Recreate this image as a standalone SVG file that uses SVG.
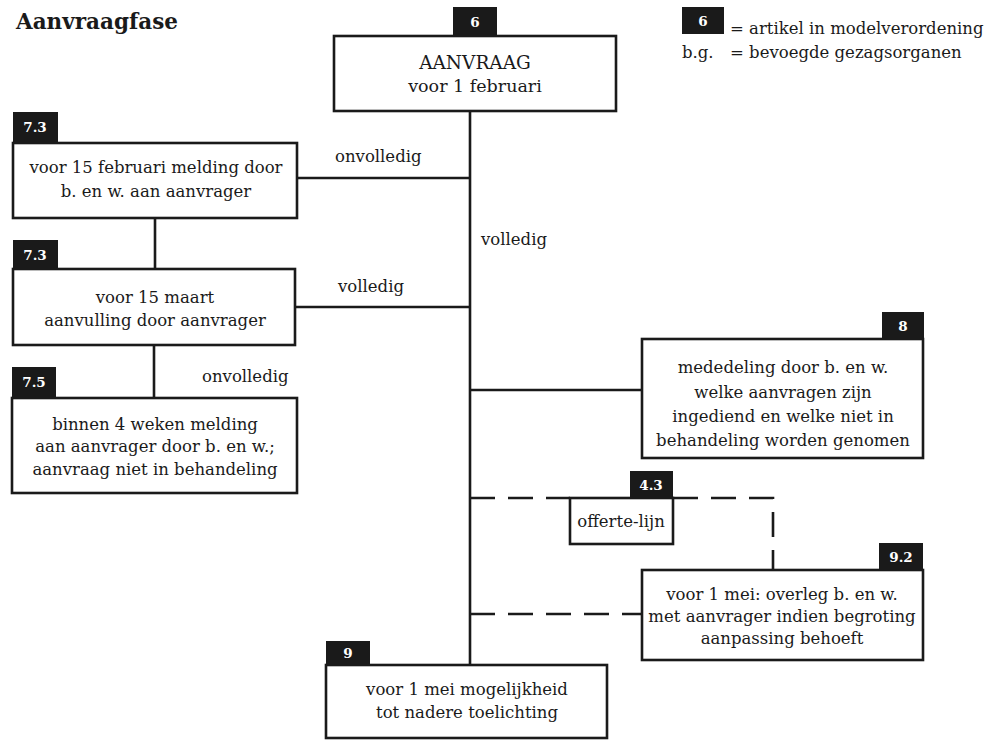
<svg xmlns="http://www.w3.org/2000/svg" width="991" height="740" viewBox="0 0 991 740">
<style>
.box{fill:#fff;stroke:#1a1a1a;stroke-width:2.6}
.badge{fill:#1a1a1a}
.bt{fill:#fff;font-family:"DejaVu Serif","Liberation Serif",serif;font-weight:bold;font-size:13.5px;text-anchor:middle}
.t{fill:#1a1a1a;font-family:"DejaVu Serif","Liberation Serif",serif;font-size:16.5px;text-anchor:middle}
.lbl{fill:#1a1a1a;font-family:"DejaVu Serif","Liberation Serif",serif;font-size:16.5px}
.ln{stroke:#1a1a1a;stroke-width:2.6;fill:none}
.dash{stroke:#1a1a1a;stroke-width:2.6;fill:none;stroke-dasharray:25 13}
</style>
<rect width="991" height="740" fill="#fff"/>
<text x="16" y="29" style="font-family:'DejaVu Serif','Liberation Serif',serif;font-weight:bold;font-size:21.5px;fill:#1a1a1a">Aanvraagfase</text>
<g id="legend">
<rect class="badge" x="682" y="7" width="42" height="27"/>
<text class="bt" x="703" y="26">6</text>
<text class="lbl" x="730" y="34">= artikel in modelverordening</text>
<text class="lbl" x="682" y="58">b.g.</text>
<text class="lbl" x="730" y="58">= bevoegde gezagsorganen</text>
</g>
<g id="connectors">
<line class="ln" x1="470" y1="111" x2="470" y2="665"/>
<line class="ln" x1="297" y1="178" x2="470" y2="178"/>
<line class="ln" x1="295" y1="307" x2="470" y2="307"/>
<line class="ln" x1="155" y1="218" x2="155" y2="269"/>
<line class="ln" x1="154" y1="345" x2="154" y2="398"/>
<line class="ln" x1="470" y1="390" x2="642" y2="390"/>
<path class="dash" d="M470 498 H570"/>
<path class="dash" d="M673 498 H773 V570"/>
<path class="dash" d="M470 614 H642"/>
<text class="lbl" x="335" y="162">onvolledig</text>
<text class="lbl" x="338" y="292">volledig</text>
<text class="lbl" x="202" y="382">onvolledig</text>
<text class="lbl" x="481" y="245">volledig</text>
</g>
<g id="n6">
<rect class="box" x="334" y="36" width="282" height="75"/>
<rect class="badge" x="453" y="7" width="44" height="29"/>
<text class="bt" x="475" y="27">6</text>
<text class="t" x="475" y="69" style="font-size:18.5px">AANVRAAG</text>
<text class="t" x="475" y="92" style="font-size:17.5px">voor 1 februari</text>
</g>
<g id="n73a">
<rect class="box" x="13" y="143" width="284" height="75"/>
<rect class="badge" x="13" y="112" width="45" height="31"/>
<text class="bt" x="35" y="132">7.3</text>
<text class="t" x="156" y="173">voor 15 februari melding door</text>
<text class="t" x="156" y="197">b. en w. aan aanvrager</text>
</g>
<g id="n73b">
<rect class="box" x="13" y="269" width="282" height="76"/>
<rect class="badge" x="13" y="240" width="45" height="29"/>
<text class="bt" x="35" y="260">7.3</text>
<text class="t" x="155" y="303">voor 15 maart</text>
<text class="t" x="155" y="326">aanvulling door aanvrager</text>
</g>
<g id="n75">
<rect class="box" x="12" y="398" width="285" height="95"/>
<rect class="badge" x="12" y="367" width="44" height="31"/>
<text class="bt" x="34" y="387">7.5</text>
<text class="t" x="155" y="430">binnen 4 weken melding</text>
<text class="t" x="155" y="452">aan aanvrager door b. en w.;</text>
<text class="t" x="155" y="475">aanvraag niet in behandeling</text>
</g>
<g id="n8">
<rect class="box" x="642" y="339" width="281" height="119"/>
<rect class="badge" x="882" y="312" width="42" height="27"/>
<text class="bt" x="903" y="331">8</text>
<text class="t" x="783" y="373">mededeling door b. en w.</text>
<text class="t" x="783" y="398">welke aanvragen zijn</text>
<text class="t" x="783" y="422">ingediend en welke niet in</text>
<text class="t" x="783" y="446">behandeling worden genomen</text>
</g>
<g id="n43">
<rect class="box" x="570" y="498" width="103" height="46"/>
<rect class="badge" x="630" y="471" width="43" height="27"/>
<text class="bt" x="651" y="490">4.3</text>
<text class="t" x="621" y="527">offerte-lijn</text>
</g>
<g id="n92">
<rect class="box" x="642" y="570" width="281" height="90"/>
<rect class="badge" x="879" y="543" width="44" height="27"/>
<text class="bt" x="901" y="562">9.2</text>
<text class="t" x="782" y="600">voor 1 mei: overleg b. en w.</text>
<text class="t" x="782" y="622">met aanvrager indien begroting</text>
<text class="t" x="782" y="644">aanpassing behoeft</text>
</g>
<g id="n9">
<rect class="box" x="326" y="665" width="281" height="73"/>
<rect class="badge" x="326" y="641" width="44" height="24"/>
<text class="bt" x="348" y="658">9</text>
<text class="t" x="467" y="695">voor 1 mei mogelijkheid</text>
<text class="t" x="467" y="718">tot nadere toelichting</text>
</g>
</svg>
